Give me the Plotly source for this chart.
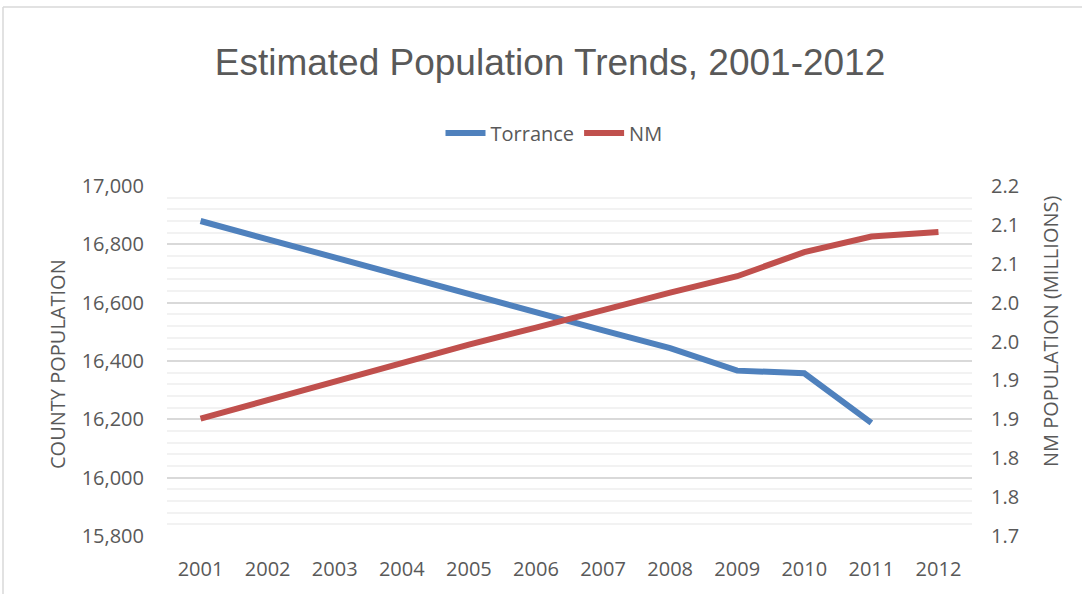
import plotly.graph_objects as go

years = ["2001", "2002", "2003", "2004", "2005", "2006", "2007", "2008", "2009", "2010", "2011", "2012"]
torrance = [16880, 16817, 16753, 16690, 16628, 16566, 16505, 16444, 16367, 16358, 16188, None]
nm_millions = [1.901, 1.925, 1.949, 1.972, 1.996, 2.018, 2.041, 2.063, 2.084, 2.115, 2.135, 2.141]

right_tickvals = [1.75, 1.80, 1.85, 1.90, 1.95, 2.00, 2.05, 2.10, 2.15, 2.20]
right_ticktext = ["1.7", "1.8", "1.8", "1.9", "1.9", "2.0", "2.0", "2.1", "2.1", "2.2"]

TXT = "#595959"
FONT = "Open Sans"
W, H = 1082, 594
L, R, T, B = 167, 110, 186, 58
pw, ph = W - L - R, H - T - B

def px_x(px):
    return (px - L) / pw

def px_y(py):
    return (H - B - py) / ph

fig = go.Figure()
fig.add_trace(go.Scatter(x=years, y=torrance, name="Torrance", mode="lines",
                         line=dict(color="#4F81BD", width=6), yaxis="y"))
fig.add_trace(go.Scatter(x=years, y=nm_millions, name="NM", mode="lines",
                         line=dict(color="#C0504D", width=6), yaxis="y2"))

fig.update_layout(
    width=W, height=H,
    margin=dict(l=L, r=R, t=T, b=B),
    paper_bgcolor="white", plot_bgcolor="white",
    font=dict(family=FONT, color=TXT, size=20),
    title=dict(text="Estimated Population Trends, 2001-2012",
               font=dict(family="Liberation Sans, Arial", size=37, color=TXT),
               x=550 / W, xanchor="center", xref="container",
               y=1 - 62 / H, yanchor="middle", yref="container"),
    showlegend=True,
    legend=dict(orientation="h", x=px_x(554), xanchor="center",
                y=px_y(133), yanchor="middle",
                font=dict(family=FONT, size=20, color=TXT),
                itemwidth=40, traceorder="normal", bgcolor="rgba(0,0,0,0)"),
    xaxis=dict(type="category", range=[-0.5, 11.5], showgrid=False,
               showline=False, zeroline=False, ticks="",
               tickfont=dict(family=FONT, size=20, color=TXT),
               ticklabelstandoff=19),
    yaxis=dict(range=[15800, 17000], dtick=200, tick0=15800, tickformat=",",
               showgrid=True, gridcolor="#D9D9D9", gridwidth=1.5,
               minor=dict(dtick=40, showgrid=True, gridcolor="#F2F2F2", gridwidth=1.5),
               zeroline=False, showline=False, ticks="",
               tickfont=dict(family=FONT, size=20, color=TXT),
               ticklabelstandoff=22),
    yaxis2=dict(range=[1.75, 2.2], overlaying="y", side="right",
                tickmode="array", tickvals=right_tickvals, ticktext=right_ticktext,
                showgrid=False, zeroline=False, showline=False, ticks="",
                tickfont=dict(family=FONT, size=20, color=TXT),
                ticklabelstandoff=18),
    hovermode=False,
)

fig.add_annotation(text="COUNTY POPULATION", xref="paper", yref="paper",
                   x=px_x(57), y=px_y(364), textangle=-90, showarrow=False,
                   xanchor="center", yanchor="middle",
                   font=dict(family=FONT, size=20, color=TXT))
fig.add_annotation(text="NM POPULATION (MILLIONS)", xref="paper", yref="paper",
                   x=px_x(1050), y=px_y(332), textangle=-90, showarrow=False,
                   xanchor="center", yanchor="middle",
                   font=dict(family=FONT, size=20, color=TXT))

# chart-area border
fig.add_shape(type="line", xref="paper", yref="paper",
              x0=px_x(3), x1=px_x(3), y0=px_y(7), y1=px_y(600),
              line=dict(color="#D9D9D9", width=1.5))
fig.add_shape(type="line", xref="paper", yref="paper",
              x0=px_x(3), x1=px_x(1090), y0=px_y(7), y1=px_y(7),
              line=dict(color="#D9D9D9", width=1.5))

fig.write_html("out.html", config={"displayModeBar": False})
